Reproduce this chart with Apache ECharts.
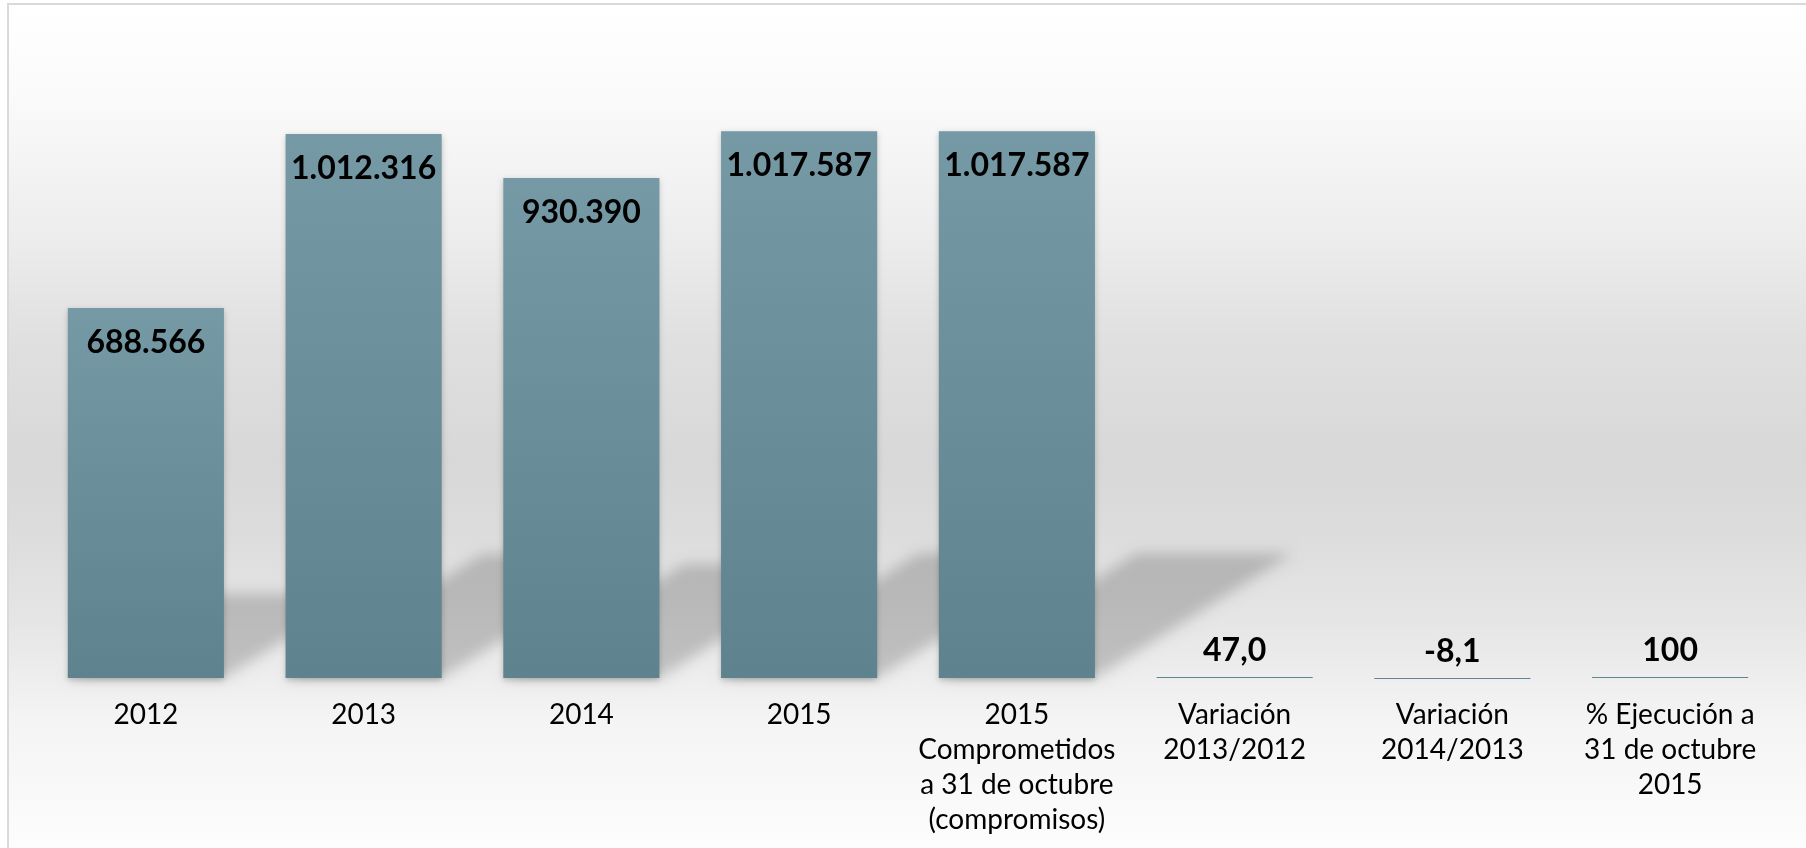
<!DOCTYPE html>
<html>
<head>
<meta charset="utf-8">
<script src="https://cdn.jsdelivr.net/npm/echarts@6/dist/echarts.min.js"></script>
<style>
html,body{margin:0;padding:0;background:#fff;}
#chart{width:1806px;height:848px;}
</style>
</head>
<body>
<div id="chart"></div>
<script>
const categories = [
  '2012',
  '2013',
  '2014',
  '2015',
  '2015\nComprometidos\na 31 de octubre\n(compromisos)',
  'Variación\n2013/2012',
  'Variación\n2014/2013',
  '% Ejecución a\n31 de octubre\n2015'
];
const values = [688566, 1012316, 930390, 1017587, 1017587, 47.0, -8.1, 100];
const decimals = [0, 0, 0, 0, 0, 1, 1, 0];

function fmt(v, d) {
  const s = Math.abs(v).toFixed(d);
  const parts = s.split('.');
  const intPart = parts[0].replace(/\B(?=(\d{3})+(?!\d))/g, '.');
  return (v < 0 ? '-' : '') + intPart + (parts[1] ? ',' + parts[1] : '');
}

const FONT = 'Lato';
const BAR_RATIO = 0.717;

const barData = values.map((v, i) => {
  const big = Math.abs(v) > 1000;
  return {
    value: v,
    label: {
      position: big ? 'insideTop' : 'top',
      distance: big ? 18.5 : 10.5
    },
    itemStyle: big ? {
      shadowColor: 'rgba(0,0,0,0.22)',
      shadowBlur: 6,
      shadowOffsetY: 2
    } : {
      color: '#5f8591'
    }
  };
});

const chart = echarts.init(document.getElementById('chart'), null, {renderer: 'canvas'});
chart.setOption({
  backgroundColor: '#ffffff',
  animation: false,
  graphic: [{
    type: 'rect',
    z: -10,
    silent: true,
    shape: {x: 8, y: 4, width: 1806, height: 850},
    style: {
      fill: new echarts.graphic.LinearGradient(0, 0, 0, 1, [
        {offset: 0, color: '#ffffff'},
        {offset: 0.113, color: '#fafafa'},
        {offset: 0.281, color: '#ececec'},
        {offset: 0.393, color: '#e0e0e0'},
        {offset: 0.536, color: '#d8d8d8'},
        {offset: 0.618, color: '#dcdcdc'},
        {offset: 0.731, color: '#e6e6e6'},
        {offset: 0.842, color: '#f4f4f4'},
        {offset: 1, color: '#fdfdfd'}
      ]),
      stroke: '#d9d9d9',
      lineWidth: 2
    }
  }],
  grid: {left: 37, right: 27, top: 33.2, bottom: 170, containLabel: false},
  xAxis: {
    type: 'category',
    data: categories,
    axisLine: {show: false},
    axisTick: {show: false},
    splitLine: {show: false},
    axisLabel: {
      interval: 0,
      margin: 19.5,
      color: '#000',
      fontFamily: FONT,
      fontSize: 28,
      lineHeight: 35,
      align: 'center'
    }
  },
  yAxis: {
    type: 'value',
    min: 0,
    max: 1200000,
    show: false,
    splitLine: {show: false}
  },
  series: [{
    type: 'custom',
    z: 1,
    silent: true,
    clip: false,
    data: values.map((v, i) => [i, v]),
    renderItem: function (params, api) {
      const i = api.value(0);
      const v = api.value(1);
      const p0 = api.coord([i, 0]);
      const p1 = api.coord([i, v]);
      const w = api.size([1, 0])[0] * BAR_RATIO;
      const h = p0[1] - p1[1];
      if (h < 5) return {type: 'group', children: []};
      const dx = 0.362 * h, dy = 0.228 * h;
      const x1 = p0[0] - w / 2, x2 = p0[0] + w / 2, y0 = p0[1];
      const off = 4000;
      return {
        type: 'polygon',
        silent: true,
        shape: {points: [[x1 - off, y0], [x2 - off, y0], [x2 + dx - off, y0 - dy], [x1 + dx - off, y0 - dy]]},
        style: {
          fill: '#000',
          shadowBlur: 14,
          shadowColor: 'rgba(0,0,0,0.19)',
          shadowOffsetX: off,
          shadowOffsetY: 0
        }
      };
    }
  }, {
    type: 'bar',
    z: 2,
    clip: false,
    barWidth: (BAR_RATIO * 100) + '%',
    barMinHeight: 1,
    data: barData,
    itemStyle: {
      color: new echarts.graphic.LinearGradient(0, 0, 0, 1, [
        {offset: 0, color: '#7599a5'},
        {offset: 1, color: '#5e838e'}
      ])
    },
    label: {
      show: true,
      color: '#000',
      fontFamily: FONT,
      fontWeight: 'bold',
      fontSize: 32,
      formatter: function (p) { return fmt(values[p.dataIndex], decimals[p.dataIndex]); }
    }
  }]
});
</script>
</body>
</html>
